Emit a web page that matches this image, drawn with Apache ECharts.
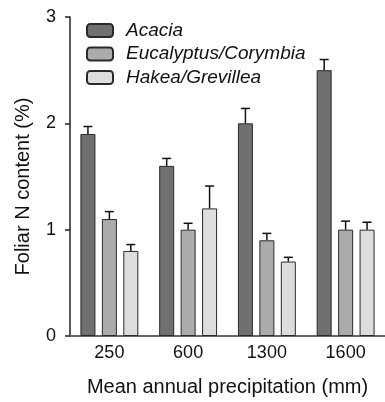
<!DOCTYPE html>
<html>
<head>
<meta charset="utf-8">
<script src="https://cdn.jsdelivr.net/npm/echarts@6/dist/echarts.min.js"></script>
<style>html,body{margin:0;padding:0;background:#fff;}#c{width:385px;height:402px;}</style>
</head>
<body>
<div id="c"></div>
<script>
var categories = ['250', '600', '1300', '1600'];
var seriesNames = ['Acacia', 'Eucalyptus/Corymbia', 'Hakea/Grevillea'];
var acaciaMean = [1.9, 1.6, 2.0, 2.5];
var acaciaUpper = [1.97, 1.67, 2.14, 2.6];
var eucMean = [1.1, 1.0, 0.9, 1.0];
var eucUpper = [1.17, 1.06, 0.965, 1.08];
var hakeaMean = [0.8, 1.2, 0.7, 1.0];
var hakeaUpper = [0.86, 1.41, 0.74, 1.07];
var yTicks = [0, 1, 2, 3];

var colors = ['#707070', '#ababab', '#dcdedc'];
var means = [acaciaMean, eucMean, hakeaMean];
var uppers = [acaciaUpper, eucUpper, hakeaUpper];
var BAR_W = 15, GAP = 0.43;
var font = 'Liberation Sans, Arial, sans-serif';

var series = [];
for (var s = 0; s < 3; s++) {
  series.push({
    name: seriesNames[s], type: 'bar', data: means[s], barWidth: BAR_W, barGap: (GAP * 100) + '%',
    itemStyle: { color: colors[s], borderColor: '#2a2a2a', borderWidth: 1 },
    emphasis: { disabled: true }, z: 2
  });
}
for (var s2 = 0; s2 < 3; s2++) {
  (function (si) {
    var d = categories.map(function (c, i) { return [i, means[si][i], uppers[si][i]]; });
    series.push({
      type: 'custom', name: 'err' + si, data: d, z: 3, silent: true,
      renderItem: function (params, api) {
        var idx = api.value(0);
        var off = (si - 1) * BAR_W * (1 + GAP);
        var p1 = api.coord([idx, api.value(1)]);
        var p2 = api.coord([idx, api.value(2)]);
        var x = p1[0] + off;
        var st = { stroke: '#111', lineWidth: 1.5 };
        return { type: 'group', children: [
          { type: 'line', shape: { x1: x, y1: p1[1], x2: x, y2: p2[1] }, style: st },
          { type: 'line', shape: { x1: x - 4.5, y1: p2[1], x2: x + 4.5, y2: p2[1] }, style: st }
        ] };
      }
    });
  })(s2);
}

var chart = echarts.init(document.getElementById('c'), null, { renderer: 'canvas' });
chart.setOption({
  animation: false,
  backgroundColor: '#fff',
  grid: { left: 70, right: -5, top: 17, bottom: 65, containLabel: false },
  legend: {
    data: seriesNames, orient: 'vertical', left: 86, top: 21, padding: 0,
    itemWidth: 26, itemHeight: 13, itemGap: 4.5,
    textStyle: { fontFamily: font, fontSize: 19, fontStyle: 'italic', color: '#111', padding: [0, 0, 0, 8] },
    selectedMode: false
  },
  xAxis: {
    type: 'category', data: categories,
    name: 'Mean annual precipitation (mm)', nameLocation: 'middle', nameGap: 41,
    nameTextStyle: { fontFamily: font, fontSize: 20, color: '#111' },
    axisLine: { lineStyle: { color: '#666', width: 2 } },
    axisTick: { show: false },
    axisLabel: { fontFamily: font, fontSize: 18, color: '#111', margin: 8 }
  },
  yAxis: {
    type: 'value', min: yTicks[0], max: yTicks[yTicks.length - 1], interval: 1,
    name: 'Foliar N content (%)', nameLocation: 'middle', nameGap: 37,
    nameTextStyle: { fontFamily: font, fontSize: 20, color: '#111', padding: [0, 20, 0, 0] },
    axisLine: { show: true, lineStyle: { color: '#222', width: 1.5 } },
    axisTick: { show: true, length: 5, lineStyle: { color: '#222', width: 1.5 } },
    splitLine: { show: false },
    axisLabel: { fontFamily: font, fontSize: 18, color: '#111', margin: 14 }
  },
  series: series
});
</script>
</body>
</html>
